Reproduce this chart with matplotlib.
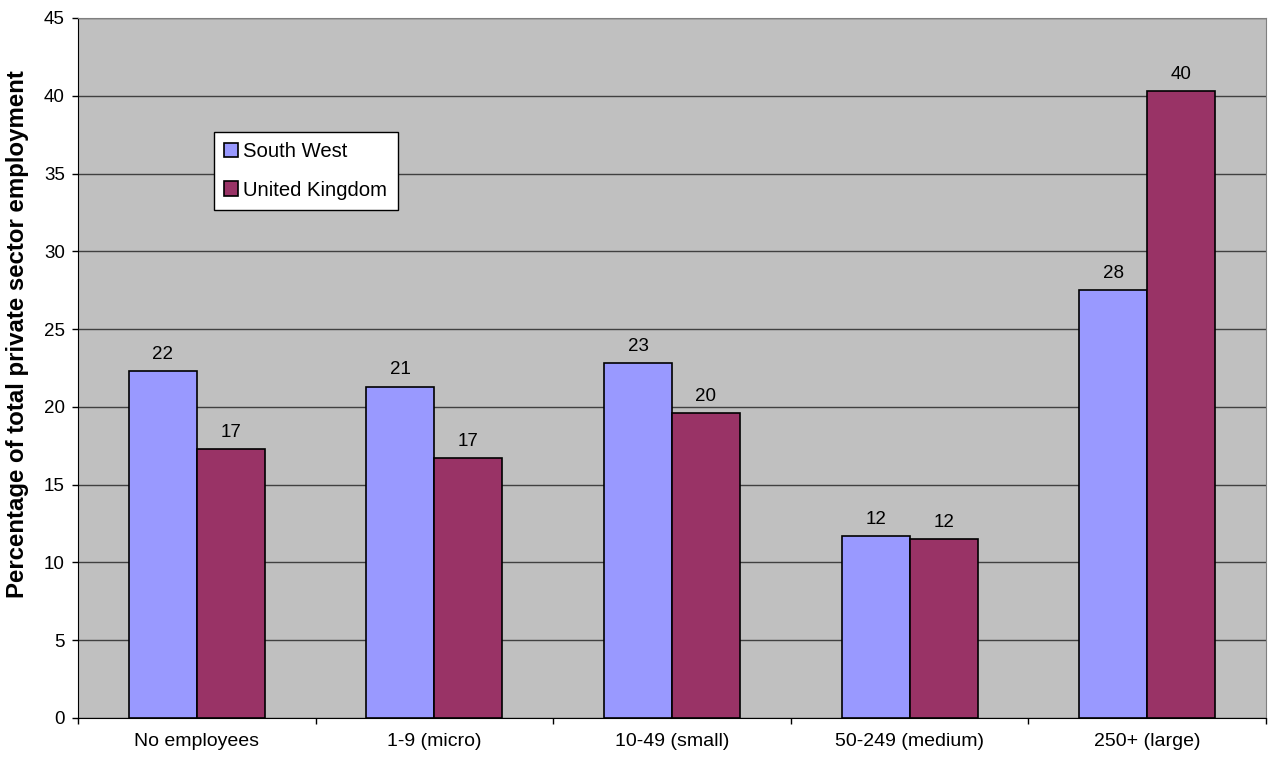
import numpy as np
import matplotlib.pyplot as plt

plt.rcParams['font.family'] = ['Liberation Sans', 'DejaVu Sans']

# share of private sector employment by business size
categories = ['No employees', '1-9 (micro)', '10-49 (small)', '50-249 (medium)', '250+ (large)']
south_west = [22.3, 21.3, 22.8, 11.7, 27.5]
united_kingdom = [17.3, 16.7, 19.6, 11.5, 40.3]
y_ticks = np.arange(0, 50, 5)

fig = plt.figure(figsize=(12.75, 7.6), dpi=100)
ax = fig.add_axes([78/1275, 42/760, 1188/1275, 700/760])
ax.set_facecolor('#C0C0C0')

x = np.arange(len(categories))
w = 0.286
b1 = ax.bar(x - w/2, south_west, w, color='#9999FF', edgecolor='black', linewidth=1.2,
            label='South West', zorder=3)
b2 = ax.bar(x + w/2, united_kingdom, w, color='#993366', edgecolor='black', linewidth=1.2,
            label='United Kingdom', zorder=3)

# value labels above each bar
for bars, vals in [(b1, south_west), (b2, united_kingdom)]:
    for r, v in zip(bars, vals):
        ax.annotate('%d' % round(v), (r.get_x() + r.get_width()/2, v),
                    xytext=(0, 6), textcoords='offset points',
                    ha='center', va='bottom', fontsize=13.5)

ax.set_xlim(-0.5, len(categories) - 0.5)
ax.set_ylim(0, 45)
ax.set_yticks(y_ticks)
ax.yaxis.grid(True, color='#404040', linewidth=1.0, zorder=0)
ax.set_axisbelow(True)

# category labels centred, tick marks on the category boundaries
ax.set_xticks(x)
ax.set_xticklabels(categories, fontsize=14)
ax.tick_params(axis='x', which='major', length=0, pad=11)
ax.set_xticks(np.arange(-0.5, len(categories), 1), minor=True)
ax.tick_params(axis='x', which='minor', length=4.5, width=1, direction='out')
ax.tick_params(axis='y', labelsize=13.5, length=4.5, width=1, direction='out', pad=5)

for s in ['left', 'bottom']:
    ax.spines[s].set_color('black')
for s in ['top', 'right']:
    ax.spines[s].set_color('#808080')

ax.set_ylabel('Percentage of total private sector employment', fontsize=17.3,
              fontweight='bold')
ax.yaxis.set_label_coords(-0.041, 0.549)

leg = ax.legend(loc='upper left', bbox_to_anchor=(0.1145, 0.837),
                fontsize=14.6, frameon=True, fancybox=False, borderpad=0.5,
                handlelength=0.7, handleheight=0.7, handletextpad=0.25,
                labelspacing=0.95, borderaxespad=0)
leg.get_frame().set_edgecolor('black')
leg.get_frame().set_facecolor('white')
leg.get_frame().set_alpha(1)
leg.get_frame().set_linewidth(1)

fig.savefig('out.png', dpi=100)
